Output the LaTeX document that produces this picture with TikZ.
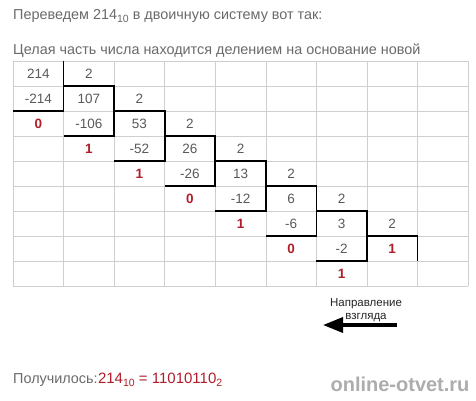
\documentclass[tikz,border=0pt]{standalone}
\usepackage{fontspec}
\setmainfont{Liberation Sans}
\usetikzlibrary{arrows.meta}
\definecolor{txtgray}{HTML}{6A6A6A}
\definecolor{numgray}{HTML}{5A5A5A}
\definecolor{gridgray}{HTML}{CFCFCF}
\definecolor{bitred}{HTML}{B01E2A}
\newcommand\lowsub[1]{\raisebox{-3.5pt}{\fontsize{10.5}{10.5}\selectfont #1}}

\begin{document}
\begin{tikzpicture}[x=1pt,y=-1pt,
  num/.style={text=numgray,font=\fontsize{13.5}{14}\selectfont},
  bit/.style={text=bitred,font=\fontsize{13.5}{14}\selectfont\bfseries},
  textline/.style={text=txtgray,font=\fontsize{14.4}{16}\selectfont,anchor=base west,inner sep=0pt},
  gridline/.style={gridgray,line width=0.6pt},
  corner/.style={black,line width=1.7pt},
  wmtext/.style={font=\fontsize{20}{20}\selectfont\bfseries,inner sep=0pt}]
  \useasboundingbox[fill=white] (0,0) rectangle (476,400);

  \node[textline] (title) at (13,19) {Переведем 214\lowsub{10} в двоичную систему вот так:};
  \node[textline] (rule) at (13,54) {Целая часть числа находится делением на основание новой};

  \begin{scope}[shift={(13,61)},x=50.56pt,y=-25pt]
    \draw[gridline,xstep=1,ystep=-1] (0,9) grid (9,0);

    % divisions
    \node[num] (a0) at (0.5,0.5) {214};
    \node[num] (d0) at (1.5,0.5) {2};
    \node[num] (s0) at (0.5,1.5) {-214};
    \node[num] (a1) at (1.5,1.5) {107};
    \node[num] (d1) at (2.5,1.5) {2};
    \node[bit] (r0) at (0.5,2.5) {0};
    \node[num] (s1) at (1.5,2.5) {-106};
    \node[num] (a2) at (2.5,2.5) {53};
    \node[num] (d2) at (3.5,2.5) {2};
    \node[bit] (r1) at (1.5,3.5) {1};
    \node[num] (s2) at (2.5,3.5) {-52};
    \node[num] (a3) at (3.5,3.5) {26};
    \node[num] (d3) at (4.5,3.5) {2};
    \node[bit] (r2) at (2.5,4.5) {1};
    \node[num] (s3) at (3.5,4.5) {-26};
    \node[num] (a4) at (4.5,4.5) {13};
    \node[num] (d4) at (5.5,4.5) {2};
    \node[bit] (r3) at (3.5,5.5) {0};
    \node[num] (s4) at (4.5,5.5) {-12};
    \node[num] (a5) at (5.5,5.5) {6};
    \node[num] (d5) at (6.5,5.5) {2};
    \node[bit] (r4) at (4.5,6.5) {1};
    \node[num] (s5) at (5.5,6.5) {-6};
    \node[num] (a6) at (6.5,6.5) {3};
    \node[num] (d6) at (7.5,6.5) {2};
    \node[bit] (r5) at (5.5,7.5) {0};
    \node[num] (s6) at (6.5,7.5) {-2};
    \node[bit] (a7) at (7.5,7.5) {1};
    \node[bit] (r6) at (6.5,8.5) {1};

    % corners
    \draw[corner] (0,2) -- (1,2) -- (1,0);
    \draw[corner] (1,1) -- (2,1) -- (2,3) -- (1,3);
    \draw[corner] (2,2) -- (3,2) -- (3,4) -- (2,4);
    \draw[corner] (3,3) -- (4,3) -- (4,5) -- (3,5);
    \draw[corner] (4,4) -- (5,4) -- (5,6) -- (4,6);
    \draw[corner] (5,5) -- (6,5) -- (6,7) -- (5,7);
    \draw[corner] (6,6) -- (7,6) -- (7,8) -- (6,8);
    \draw[corner] (7,7) -- (8,7) -- (8,8);
  \end{scope}

  \node[align=center,font=\fontsize{11.5}{13.5}\selectfont,text=black!85] (look) at (366,310) {Направление\\взгляда};
  \coordinate (tail) at (397,325);
  \coordinate (tip) at (323,325);
  \draw[black,line width=3.5pt,-{Triangle[length=20pt,width=15pt]}] (tail) -- (tip);

  \node[textline] (got) at (13,383) {Получилось:};
  \node[textline,text=bitred,font=\fontsize{15}{16}\selectfont,anchor=base west] (result) at (got.base east) {214\lowsub{10} = 11010110\lowsub{2}};

  \node[wmtext,text=black!32] (wm) at (400,384) {online-otvet.ru};
\end{tikzpicture}
\end{document}
